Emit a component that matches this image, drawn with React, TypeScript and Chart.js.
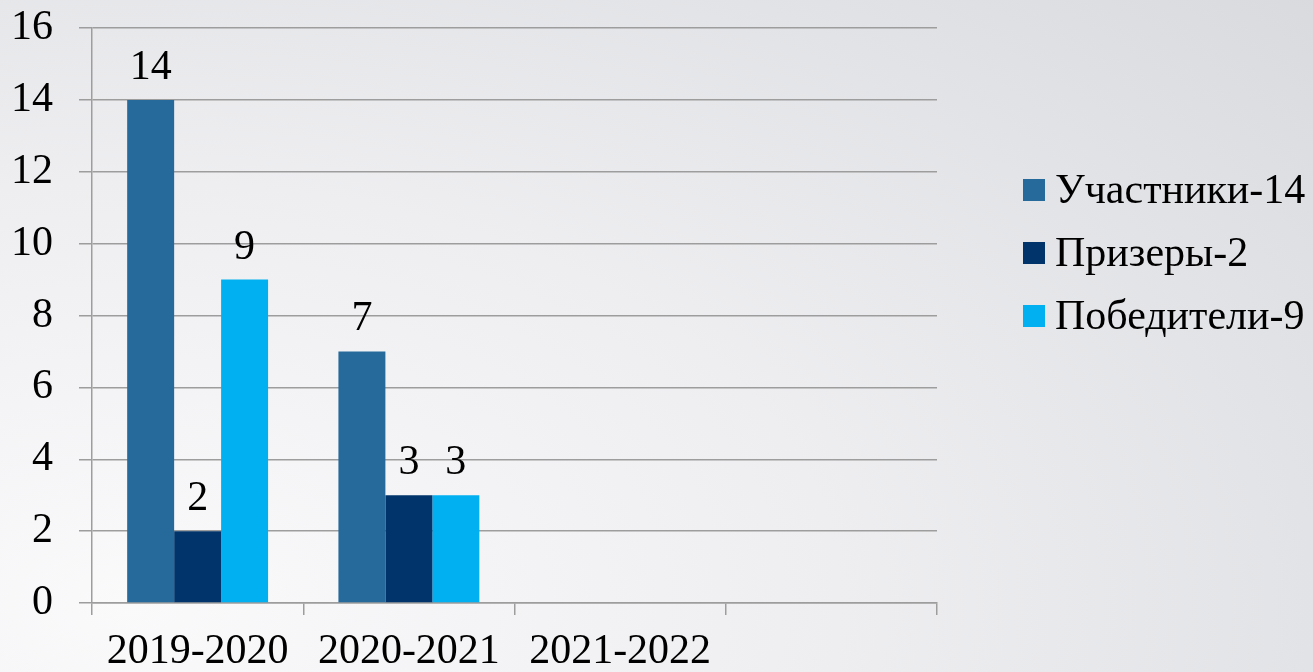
import React, { useEffect, useRef } from "react";
import { Chart, registerables } from "chart.js";

Chart.register(...registerables);

const categories = ["2019-2020", "2020-2021", "2021-2022", ""];
const seriesNames = ["Участники-14", "Призеры-2", "Победители-9"];
const participants = [14, 7, null, null];
const prizers = [2, 3, null, null];
const winners = [9, 3, null, null];
const seriesColors = ["#256A9B", "#00346A", "#00B0F0"];
const yMin = 0;
const yMax = 16;
const yStep = 2;

const FONT_FAMILY = '"Liberation Serif", "Times New Roman", serif';
const FONT_SIZE = 42;
const GRID = "#9d9d9d";

const valueLabels = {
  id: "valueLabels",
  afterDatasetsDraw(chart: any) {
    const ctx = chart.ctx;
    ctx.save();
    ctx.font = `${FONT_SIZE}px ${FONT_FAMILY}`;
    ctx.fillStyle = "#000";
    ctx.textAlign = "center";
    ctx.textBaseline = "alphabetic";
    chart.data.datasets.forEach((ds: any, i: number) => {
      const meta = chart.getDatasetMeta(i);
      meta.data.forEach((el: any, j: number) => {
        const v = ds.data[j];
        if (v == null) return;
        ctx.fillText(String(v), el.x, el.y - 21);
      });
    });
    ctx.restore();
  },
};

export default function App() {
  const ref = useRef<HTMLCanvasElement | null>(null);

  useEffect(() => {
    document.body.style.margin = "0";
    const canvas = ref.current;
    if (!canvas) return;
    const values = [participants, prizers, winners];
    const chart = new Chart(canvas, {
      type: "bar",
      data: {
        labels: categories,
        datasets: seriesNames.map((name, i) => ({
          label: name,
          data: values[i],
          backgroundColor: seriesColors[i],
          borderWidth: 0,
          categoryPercentage: 0.667,
          barPercentage: 1,
        })),
      },
      options: {
        responsive: false,
        animation: false,
        devicePixelRatio: 1,
        layout: { padding: { top: 28, right: 376, left: 0, bottom: 0 } },
        plugins: {
          legend: { display: false },
          tooltip: { enabled: false },
        },
        scales: {
          x: {
            offset: true,
            grid: {
              display: true,
              offset: true,
              drawOnChartArea: false,
              drawTicks: true,
              tickLength: 12,
              color: GRID,
              lineWidth: 1.5,
            },
            border: { display: true, color: GRID, width: 1.5 },
            ticks: {
              color: "#000",
              font: { family: FONT_FAMILY, size: FONT_SIZE },
              padding: 12,
              maxRotation: 0,
              autoSkip: false,
            },
            afterFit: (s: any) => {
              s.height = 69;
              s.paddingLeft = 0;
              s.paddingRight = 0;
            },
          },
          y: {
            min: yMin,
            max: yMax,
            ticks: {
              stepSize: yStep,
              color: "#000",
              font: { family: FONT_FAMILY, size: FONT_SIZE },
              padding: 26,
            },
            grid: { color: GRID, tickLength: 13, lineWidth: 1.5 },
            border: { display: true, color: GRID, width: 1.5 },
            afterFit: (s: any) => {
              s.width = 92;
              s.paddingTop = 0;
              s.paddingBottom = 0;
            },
          },
        },
      },
      plugins: [valueLabels],
    });
    return () => chart.destroy();
  }, []);

  return (
    <div
      style={{
        position: "fixed",
        left: 0,
        top: 0,
        width: 1313,
        height: 672,
        overflow: "hidden",
        background:
          "radial-gradient(ellipse 120% 140% at 10% 90%, #fafafb 0%, #eeeef1 45%, #e2e3e6 75%, #d9dadd 100%)",
      }}
    >
      <canvas ref={ref} width={1313} height={672} style={{ display: "block" }} />
      <div
        style={{
          position: "absolute",
          left: 1023,
          top: 158,
          fontFamily: FONT_FAMILY,
          fontSize: FONT_SIZE,
          color: "#000",
          lineHeight: "63px",
        }}
      >
        {seriesNames.map((name, i) => (
          <div key={name} style={{ display: "flex", alignItems: "center", height: 63, whiteSpace: "nowrap" }}>
            <span
              style={{
                display: "inline-block",
                width: 22,
                height: 22,
                background: seriesColors[i],
                marginRight: 10,
              }}
            />
            <span>{name}</span>
          </div>
        ))}
      </div>
    </div>
  );
}
